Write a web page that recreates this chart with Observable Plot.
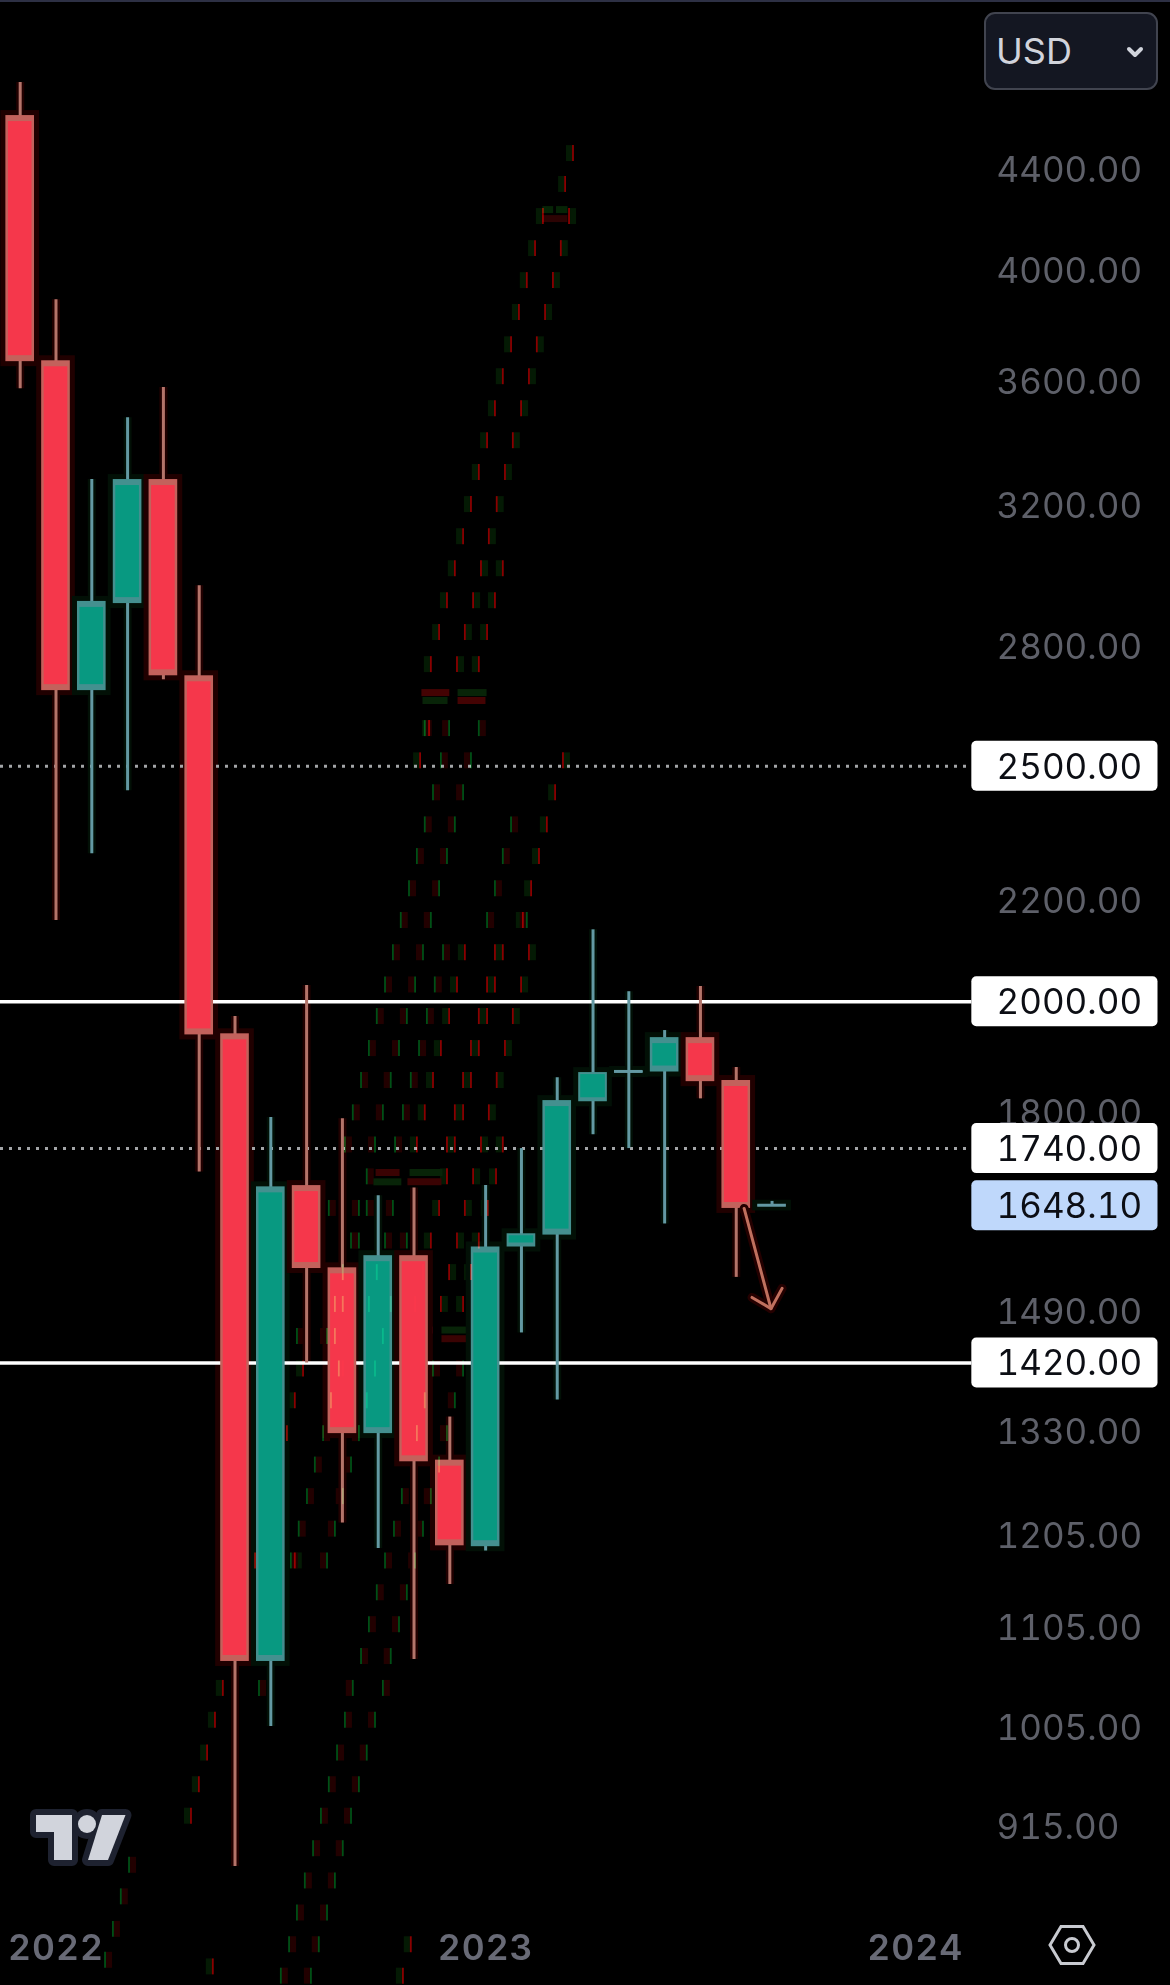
<!DOCTYPE html>
<html>
<head>
<meta charset="utf-8">
<script src="https://cdn.jsdelivr.net/npm/d3@7"></script>
<script src="https://cdn.jsdelivr.net/npm/@observablehq/plot@0.6"></script>
<style>
html,body{margin:0;padding:0;background:#000}
#wrap{position:relative;width:1170px;height:1985px;background:#000;overflow:hidden;font-family:Inter,sans-serif}
#wrap svg{display:block}
#topline{position:absolute;left:0;top:0;width:1170px;height:2px;background:#2d3044}
#usd{position:absolute;left:984px;top:12px;width:170px;height:74px;box-sizing:content-box;background:#141722;border:2.5px solid #41444f;border-radius:11px;color:#d1d4dc;font-size:36px;line-height:74px;text-indent:10px}
.ov{position:absolute;left:0;top:0;overflow:visible}
g[aria-label="x-axis tick label"] text{letter-spacing:1px}
</style>
</head>
<body>
<div id="wrap"><div id="chart"></div>
<div id="topline"></div>
<div id="usd">USD</div>
<svg class="ov" width="1170" height="1985" id="icons">
  <path d="M1129 49l6 6l6-6" fill="none" stroke="#d1d4dc" stroke-width="4" stroke-linecap="round" stroke-linejoin="round"/>
  <g stroke="#1e2230" stroke-width="12" stroke-linejoin="round" fill="#1e2230">
    <path d="M36 1815H72V1860H54V1832H36Z"/><circle cx="87" cy="1824" r="9"/><path d="M102 1815H125.500L108 1860H88Z"/>
  </g>
  <g fill="#d1d4dc">
    <path d="M36 1815H72V1860H54V1832H36Z"/><circle cx="87" cy="1824" r="9"/><path d="M102 1815H125.500L108 1860H88Z"/>
  </g>
  <path d="M1050 1945L1061 1926.500H1083L1094 1945L1083 1963.500H1061Z" fill="none" stroke="#c8cad0" stroke-width="3"/>
  <circle cx="1072" cy="1945" r="6.500" fill="none" stroke="#c8cad0" stroke-width="3"/>
</svg>
</div>
<script>
// Monthly candles, Dec 2021 (index 0) to Sep 2023 (index 21)
const opens  = [4633,3672,2686,2917,3281,2724,1940,1070,1680,1554,1328,1572,1295,1193,1585,1603,1819,1870,1871,1933,1856,1648];
const highs  = [4780,3891,3281,3479,3580,2967,1972,1792,2031,1790,1664,1676,1349,1680,1740,1861,2141,2019,1946,2029,1879,1655];
const lows   = [3576,2160,2301,2443,2714,1702, 881,1006,1420,1220,1191,1072,1151,1188,1461,1371,1763,1740,1620,1824,1540,1647];
const closes = [3669,2686,2923,3281,2724,1938,1070,1678,1553,1328,1572,1293,1194,1585,1605,1821,1870,1872,1933,1854,1644,1649];

const priceTicks = [4400,4000,3600,3200,2800,2200,1800,1490,1330,1205,1105,1005,915];
const yearTicks = [1,13,25];
const yearLabels = ["2022","2023","2024"];
const solidLevels = [2000,1420];
const dottedLevels = [2500,1740];
const boxedLevels = [2500,2000,1740,1420];
const lastPrice = 1648.10;

// Hand-drawn arrow, [bar index, price]
const arrowShaft = [[20.22,1644],[20.97,1495]];
const arrowHead = [[20.44,1511],[20.97,1495],[21.28,1524]];

// Faint ghost dashes: [price, red-dash bar positions, green-dash bar positions]
const ghostRows = [
[4469,[15.44],[]],[4340,[15.22],[]],[4210,[14.60,15.33],[]],[4084,[14.38,15.10],[]],[3962,[14.15,14.88],[]],
[3844,[13.93,14.66],[]],[3728,[13.71,14.43],[]],[3617,[13.48,14.21],[]],[3509,[13.26,13.99],[]],[3404,[13.04,13.76],[]],
[3303,[12.81,13.54],[]],[3204,[12.59,13.31],[]],[3108,[12.37,13.09],[]],[3015,[12.14,12.87,13.48],[]],[2925,[11.92,12.65,13.26],[]],
[2838,[11.70,12.42,13.04],[]],[2753,[11.47,12.20,12.81],[]],[2591,[11.42],[11.30,11.98,12.81]],[2513,[11.17,15.16],[11.75,12.59]],
[2438,[14.94],[11.53,12.37]],[2365,[14.71],[11.30,12.14,13.71]],[2295,[14.49],[11.08,11.92,13.48]],[2226,[14.27],[10.86,11.70,13.26]],
[2160,[14.04],[10.63,11.47,13.04,14.15]],[2095,[12.42,13.26,13.48,14.21],[10.41,11.25,11.81]],[2032,[12.20,13.04,13.26,13.99],[10.19,11.03,11.58]],
[1972,[11.98,12.81,13.04,13.76],[9.96,10.80,11.36]],[1913,[11.75,12.59,12.81,13.54],[9.74,10.58,11.14]],[1856,[11.53,12.37,12.59,13.31],[9.52,10.35,10.91]],
[1800,[11.30,12.14,12.37,13.09],[9.29,10.13,10.69]],[1746,[11.08,11.92,12.14,12.87,13.48],[9.07,9.91,10.47]],[1694,[11.92,12.65,13.29],[9.68]],
[1644,[11.70,12.42,13.06],[8.62,9.46,9.68,10.41]],[1594,[11.47,12.20,12.81],[9.24,9.46,10.19,10.80]],[1547,[11.25,11.98,12.59],[9.01,9.96]],
[1501,[11.03,11.75,12.37],[8.79,9.01,9.74,10.35]],[1456,[],[7.73,8.57,8.79,10.13]],[1412,[7.90,9.01],[8.90,9.91,11.53,12.37]],
[1370,[7.67],[8.68,9.68,11.30,12.14]],[1328,[7.45],[8.46,9.46,11.08,11.92]],[1289,[],[8.23,9.24,11.70]],[1251,[],[8.01,9.01,10.66,11.47]],
[1213,[],[7.78,8.79,10.44,11.25]],[1177,[6.56,7.67],[7.56,8.57,10.19,11.03]],[1142,[],[9.96,10.80]],[1108,[],[9.74,10.58]],[1075,[],[9.52,10.35]],
[1043,[5.66],[6.67,9.29,10.13]],[1012,[5.44],[9.07,9.91]],[981,[5.22],[8.85,9.68]],[952,[4.99],[8.62,9.46]],[924,[4.77],[8.40,9.24]],
[896,[],[8.18,9.01]],[882,[],[3.04]],[869,[],[7.95,8.79]],[856,[],[2.81]],[843,[],[7.73,8.57]],[830,[],[2.59]],[818,[10.91],[7.51,8.34]],
[806,[],[2.37]],[801,[5.38],[]],[794,[10.69],[7.28,8.12]]
];
// Faint horizontal ghost bars: [from bar, to bar, price, colour]
const ghostBars = [
[14.60,15.30,4202,"#2c0303"],[14.60,14.90,4238,"#062406"],[14.98,15.30,4238,"#062406"],
[11.22,12.00,2681,"#440303"],[12.23,13.04,2681,"#082408"],[11.25,11.95,2661,"#082408"],[12.23,13.01,2661,"#440303"],
[9.94,10.61,1701,"#3a0303"],[10.89,11.81,1701,"#082408"],[9.88,10.66,1686,"#082408"],[10.83,11.78,1686,"#3a0303"],
[10.75,11.53,1465,"#ff1838"],[11.78,12.56,1465,"#082408"],[11.78,12.56,1453,"#3a0303"]
];

const candles = opens.map((o,i)=>{
  const up = closes[i] >= o;
  return {i, o, c:closes[i], h:highs[i], l:lows[i], top:Math.max(o,closes[i]), bot:Math.min(o,closes[i]),
    main: up ? "#089981" : "#f5374b",
    edge: up ? "#44908f" : "#c2625c",
    wick: up ? "#6399a3" : "#b4746a",
    glow: up ? "#021006" : "#200000"};
});
const ghostDashes = ghostRows.flatMap(([p,rs,gs])=>[
  ...rs.map((x,n)=>({x,p,bright:"#8a0000",glow:"#041a04",side:n%2?4:-4})),
  ...gs.map((x,n)=>({x,p,bright:"#005016",glow:"#220000",side:n%2?-4:4}))
]);
const dashHalf = 1.0076, labelHalf = 1.024, bodyHalf = 0.4;
const boxL = 26.58, boxR = 31.78, startX = -0.55;
const fmt = d => d.toFixed(2);
const font = "Inter, sans-serif";

const chart = Plot.plot({
  width:1170, height:1985,
  marginLeft:0, marginRight:173, marginTop:0, marginBottom:0,
  style:{background:"#000", fontFamily:font},
  x:{domain:[startX,27.297], axis:null},
  y:{type:"log", domain:[787,5167], range:[1985,0], axis:null},
  color:{type:"identity"},
  marks:[
    // ghost glow
    Plot.ruleX(ghostDashes.filter(d=>d.side<0),{x:"x",y1:d=>d.p*dashHalf,y2:d=>d.p/dashHalf,stroke:"glow",strokeWidth:6,dx:-4}),
    Plot.ruleX(ghostDashes.filter(d=>d.side>0),{x:"x",y1:d=>d.p*dashHalf,y2:d=>d.p/dashHalf,stroke:"glow",strokeWidth:6,dx:4}),
    Plot.ruleY(ghostBars,{x1:d=>d[0],x2:d=>d[1],y:d=>d[2],stroke:d=>d[3],strokeWidth:7}),
    // candle glow
    Plot.ruleX(candles,{x:"i",y1:"h",y2:"l",stroke:"glow",strokeWidth:8}),
    Plot.rect(candles,{x1:d=>d.i-bodyHalf,x2:d=>d.i+bodyHalf,y1:"top",y2:"bot",fill:"glow",insetLeft:-5,insetRight:-5,insetTop:-5,insetBottom:-5}),
    // level lines
    Plot.ruleY(dottedLevels,{y:d=>d,x1:startX,x2:boxL,stroke:"#a3a5a8",strokeWidth:3,strokeDasharray:"3 6"}),
    Plot.ruleY(solidLevels,{y:d=>d,x1:startX,x2:boxL,stroke:"#ffffff",strokeWidth:3.4}),
    // wicks
    Plot.ruleX(candles,{x:"i",y1:"h",y2:"l",stroke:"wick",strokeWidth:3}),
    // bodies
    Plot.rect(candles,{x1:d=>d.i-bodyHalf,x2:d=>d.i+bodyHalf,y1:"top",y2:"bot",fill:"edge"}),
    Plot.ruleY(candles.filter(d=>d.top/d.bot<=1.005),{x1:d=>d.i-bodyHalf,x2:d=>d.i+bodyHalf,y:"top",stroke:"wick",strokeWidth:3}),
    Plot.rect(candles.filter(d=>d.top/d.bot>1.03),{x1:d=>d.i-bodyHalf,x2:d=>d.i+bodyHalf,y1:"top",y2:"bot",fill:"main",insetLeft:2.5,insetRight:2.5,insetTop:6,insetBottom:6}),
    Plot.rect(candles.filter(d=>d.top/d.bot<=1.03 && d.top/d.bot>1.005),{x1:d=>d.i-bodyHalf,x2:d=>d.i+bodyHalf,y1:"top",y2:"bot",fill:"main",insetLeft:2,insetRight:2,insetTop:2,insetBottom:4}),
    // ghost bright dashes on top
    Plot.ruleX(ghostDashes,{x:"x",y1:d=>d.p*dashHalf,y2:d=>d.p/dashHalf,stroke:"bright",strokeWidth:1.8,mixBlendMode:"screen"}),
    // arrow
    Plot.line(arrowShaft,{x:d=>d[0],y:d=>d[1],stroke:"#240000",strokeWidth:9}),
    Plot.line(arrowHead,{x:d=>d[0],y:d=>d[1],stroke:"#240000",strokeWidth:9}),
    Plot.line(arrowShaft,{x:d=>d[0],y:d=>d[1],stroke:"#c0705e",strokeWidth:3}),
    Plot.line(arrowHead,{x:d=>d[0],y:d=>d[1],stroke:"#c0705e",strokeWidth:3}),
    // axes
    Plot.axisY(priceTicks,{anchor:"right",tickSize:0,tickPadding:0,tickFormat:fmt,fontSize:35,fill:"#5e6069",fontFamily:font,dy:1,dx:-1}),
    Plot.axisX(yearTicks,{anchor:"bottom",tickSize:0,tickPadding:-51,tickFormat:d=>yearLabels[yearTicks.indexOf(d)],fontSize:35.5,fontWeight:600,fill:"#686a76",fontFamily:font}),
    // level tags
    Plot.rect(boxedLevels,{x1:boxL,x2:boxR,y1:d=>d*labelHalf,y2:d=>d/labelHalf,fill:"#ffffff",rx:5}),
    Plot.rect([lastPrice],{x1:boxL,x2:boxR,y1:d=>d*labelHalf,y2:d=>d/labelHalf,fill:"#bfd8fb",rx:5}),
    Plot.text(boxedLevels.concat([lastPrice]),{y:d=>d,text:fmt,frameAnchor:"right",textAnchor:"start",fontSize:35,fontVariant:"tabular-nums",fill:"#0c0e14",fontFamily:font,dy:1,dx:-1})
  ]
});
document.getElementById("chart").appendChild(chart);
</script>
</body>
</html>
